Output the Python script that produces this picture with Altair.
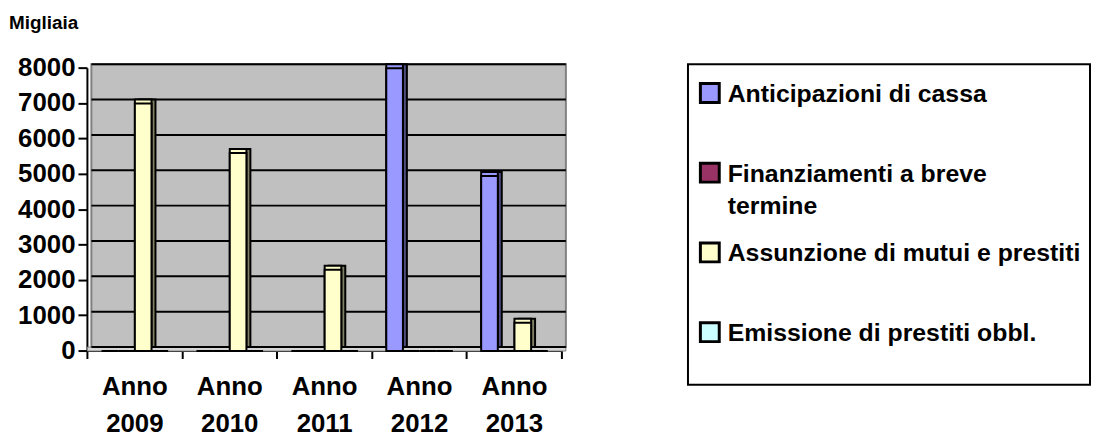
import altair as alt
import pandas as pd

years = ["Anno 2009", "Anno 2010", "Anno 2011", "Anno 2012", "Anno 2013"]
series = ["Anticipazioni di cassa", "Finanziamenti a breve termine",
          "Assunzione di mutui e prestiti", "Emissione di prestiti obbl."]
legend_labels = ["Anticipazioni di cassa", "Finanziamenti a breve\ntermine",
                 "Assunzione di mutui e prestiti", "Emissione di prestiti obbl."]
anticipazioni = [0, 0, 0, 8000, 4950]
finanziamenti = [0, 0, 0, 0, 0]
assunzione = [7000, 5600, 2300, 0, 800]
emissione = [0, 0, 0, 0, 0]
colors = ["#9999FF", "#993366", "#FFFFCC", "#CCFFFF"]
dark = ["#4D4D80", "#4D1A33", "#808066", "#668080"]
y_ticks = [0, 1000, 2000, 3000, 4000, 5000, 6000, 7000, 8000]

rows = []
for s, vals in zip(series, [anticipazioni, finanziamenti, assunzione, emissione]):
    for yv, v in zip(years, vals):
        rows.append({"anno": yv, "serie": s, "valore": v})
df = pd.DataFrame(rows)
leg = pd.DataFrame({"serie": series, "label": legend_labels})
grid_df = pd.DataFrame({"valore": y_ticks})

FONT = "Liberation Sans, Arial, sans-serif"
D = 4  # 3D depth in pixels

x = alt.X("anno:N", sort=years, title=None,
          scale=alt.Scale(paddingInner=0, paddingOuter=0),
          axis=alt.Axis(labelAngle=0, labelFont=FONT, labelFontSize=26,
                        labelFontWeight="bold", labelColor="black",
                        labelExpr="split(datum.label, ' ')",
                        labelLineHeight=38, labelPadding=15,
                        tickBand="extent", tickSize=8, tickWidth=2,
                        offset=2 * D, translate=-D,
                        tickColor="black", domainColor="black", domainWidth=2))


def xo(align):
    return alt.XOffset("serie:N", sort=series,
                       scale=alt.Scale(paddingInner=0, paddingOuter=0.85,
                                       align=align))


y_scale = alt.Scale(domain=[0, 8000], nice=False)
y_axis = alt.Axis(values=y_ticks, format="d", title="Migliaia",
                  titleAngle=0, titleAlign="left",
                  titleBaseline="alphabetic",
                  titleX=-79, titleY=-39, titleFont=FONT,
                  titleFontSize=19, titleFontWeight="bold",
                  titleColor="black",
                  labelFont=FONT, labelFontSize=26,
                  labelFontWeight="bold", labelColor="black",
                  labelPadding=3, tickSize=9, tickWidth=2,
                  offset=2 * D, translate=D,
                  tickColor="black", domainColor="black", domainWidth=2,
                  grid=False)
y = alt.Y("valore:Q", scale=y_scale, axis=y_axis)


def fill(rng):
    return alt.Fill("serie:N", sort=series,
                    scale=alt.Scale(domain=series, range=rng), legend=None)


floor = alt.Chart(grid_df).transform_filter("datum.valore == 0").mark_rect(
    fill="#D4D4D4", stroke="#808080", strokeWidth=1, y2Offset=D).encode(
    y=y, y2=alt.Y2("valore:Q"),
    x=alt.value(-D), x2=alt.value(478))
gridlines = alt.Chart(grid_df).mark_rule(color="black", strokeWidth=2).encode(
    y=y)

front_align = 0.36
side_align = 0.5

side = alt.Chart(df).mark_bar(stroke="black", strokeWidth=2).encode(
    x=x, xOffset=xo(side_align), y=y, fill=fill(dark))
top = alt.Chart(df).mark_bar(y2Offset=D, stroke="black",
                             strokeWidth=2).encode(
    x=x, xOffset=xo(front_align), y=y, fill=fill(colors))
front = alt.Chart(df).mark_bar(yOffset=D, y2Offset=D, stroke="black",
                               strokeWidth=2).encode(
    x=x, xOffset=xo(front_align), y=y, fill=fill(colors))

main = alt.layer(floor, gridlines, side, top, front).resolve_scale(
    xOffset="independent", fill="independent").properties(
    width=478, height=285,
    view=alt.ViewBackground(fill="#C0C0C0", stroke="#808080", strokeWidth=2))

ly = alt.Y("serie:N", sort=series, axis=None,
           scale=alt.Scale(type="point", range=[29, 270], padding=0))
sym = alt.Chart(leg).mark_square(size=361, stroke="black", strokeWidth=3,
                                 opacity=1).encode(
    x=alt.value(22), y=ly, fill=fill(colors))
txt = alt.Chart(leg).mark_text(align="left", baseline="top", dy=-11,
                               lineBreak="\n", lineHeight=33, font=FONT,
                               fontSize=25, fontWeight="bold",
                               color="black").encode(
    x=alt.value(40), y=ly, text="label:N")
legend = alt.layer(sym, txt).properties(
    width=405, height=323,
    view=alt.ViewBackground(fill="white", stroke="black", strokeWidth=2))

chart = alt.hconcat(main, legend, spacing=120).properties(
    padding={"left": -4, "top": 0, "right": 0, "bottom": -7})

chart.save("out.html", embed_options={"renderer": "svg", "actions": False})
